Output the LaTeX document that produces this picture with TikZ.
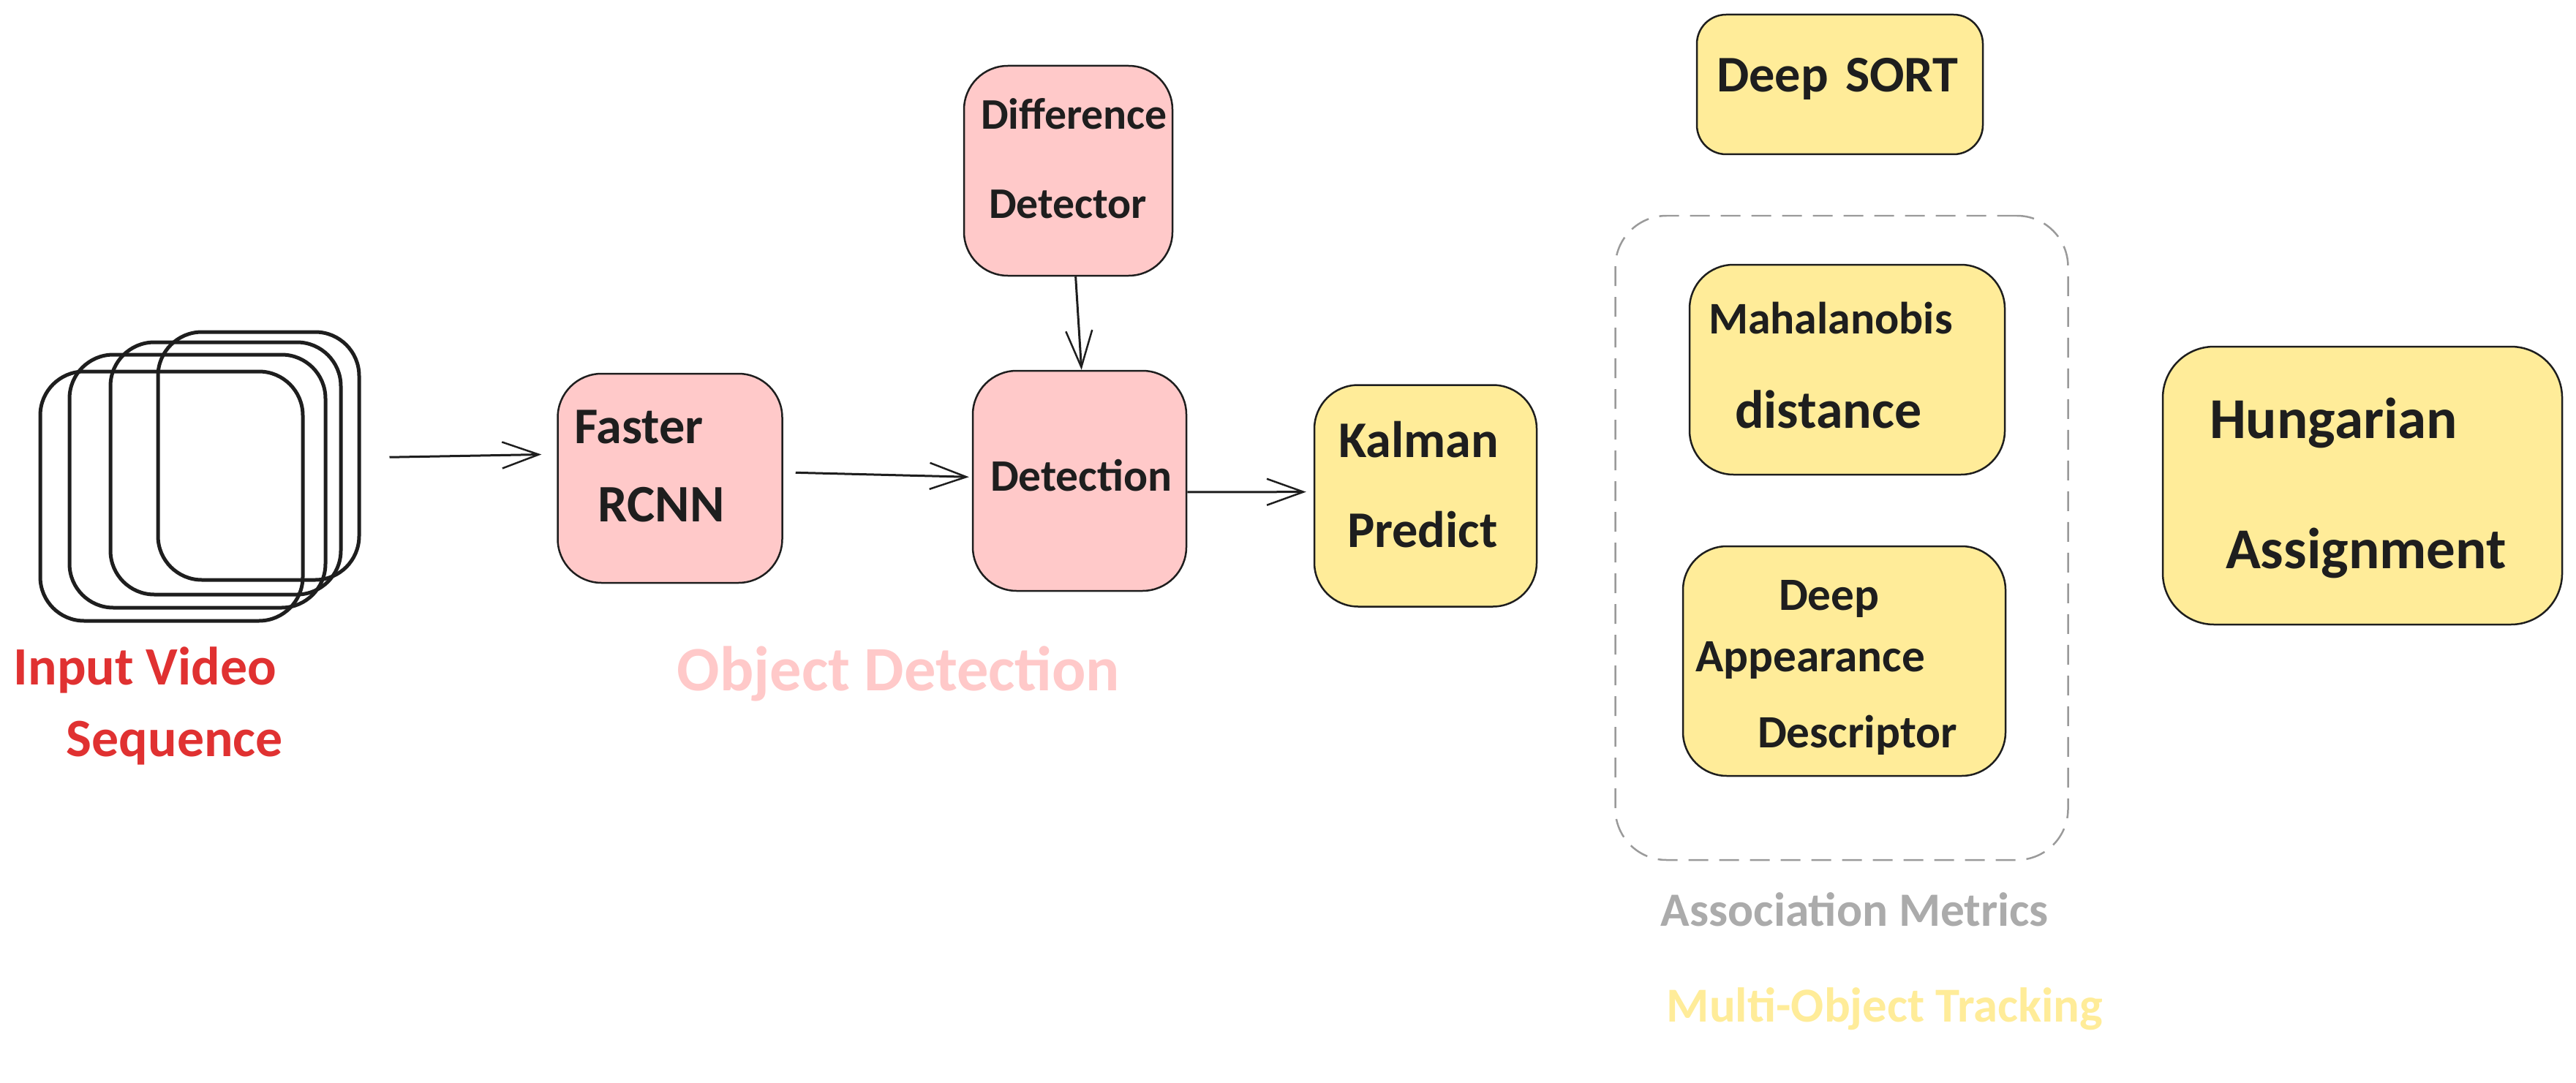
\documentclass[tikz,border=0pt]{standalone}
\usepackage{fontspec}
\setmainfont{Carlito}
\usetikzlibrary{arrows.meta}

\definecolor{ink}{HTML}{1E1E1E}
\definecolor{redfill}{HTML}{FFC9C9}
\definecolor{yellowfill}{HTML}{FFEC99}
\definecolor{redlabel}{HTML}{E03131}
\definecolor{graylabel}{HTML}{ABABAB}

\newcommand{\fsz}[2]{\fontsize{#1}{#2}\selectfont}

\tikzset{
  boxsize/.style 2 args={minimum width=#1cm, minimum height=#2cm, text width=#1cm},
  textup/.style={text height=0pt, text depth=#1cm},
  textdown/.style={text height=#1cm, text depth=0pt},
  sketchbox/.style={draw=ink, line width=0.025cm, rounded corners=0.6cm, inner sep=0pt, align=left, text=ink},
  redbox/.style={sketchbox, fill=redfill},
  yellowbox/.style={sketchbox, fill=yellowfill},
  framebox/.style={draw=ink, line width=0.05cm, rounded corners=0.6cm, inner sep=0pt},
  dashbox/.style={draw=graylabel!90!black, line width=0.025cm, rounded corners=0.7cm, inner sep=0pt,
    dash pattern=on 0.27cm off 0.15cm},
  sketcharrow/.style={draw=ink, line width=0.03cm,
    -{Straight Barb[length=0.5cm, width=0.36cm, line width=0.025cm]}},
  caption/.style={inner sep=0pt, align=left, anchor=north west},
}

\begin{document}
\begin{tikzpicture}
  \useasboundingbox (0,0) rectangle (35.22,-14.81);

  % input frames
  \node[framebox, boxsize={3.59}{3.41}] (frame1) at (2.345,-6.785) {};
  \node[framebox, boxsize={3.50}{3.46}] (frame2) at (2.700,-6.580) {};
  \node[framebox, boxsize={3.15}{3.45}] (frame3) at (3.085,-6.405) {};
  \node[framebox, boxsize={2.75}{3.39}] (frame4) at (3.535,-6.235) {};
  \node[caption, text=redlabel, font=\bfseries\fsz{21}{28}] (inputlabel) at (0.18,-8.84)
    {Input Video\\\hspace*{0.72cm}Sequence};

  % object detection
  \node[redbox, boxsize={3.07}{2.86}, textup=0.96, font=\bfseries\fsz{20}{30.7}] (faster) at (9.16,-6.54)
    {\hspace*{0.23cm}Faster\\\hspace*{0.55cm}{\fsz{20.5}{30.7}RCNN}};
  \node[redbox, boxsize={2.92}{3.01}, textdown=0.27, font=\bfseries\fsz{17.5}{30}] (detection) at (14.76,-6.575)
    {\hspace*{0.24cm}Detection};
  \node[redbox, boxsize={2.85}{2.87}, textup=1.13, font=\bfseries\fsz{17}{34.7}] (difference) at (14.605,-2.335)
    {\hspace*{0.23cm}Difference\\\hspace*{0.34cm}Detector};
  \node[caption, text=redfill, font=\bfseries\fsz{24.6}{30}] (detectlabel) at (9.25,-8.83) {Object Detection};

  % tracking
  \node[yellowbox, boxsize={3.04}{3.03}, textup=1.06, font=\bfseries\fsz{20}{35}] (kalman) at (19.49,-6.78)
    {\hspace*{0.33cm}Kalman\\\hspace*{0.45cm}Predict};
  \node[yellowbox, boxsize={3.91}{1.91}, rounded corners=0.4cm, textdown=0.21, font=\bfseries\fsz{20}{30}] (deepsort) at (25.155,-1.155)
    {\hspace*{0.27cm}Deep SORT};

  \node[dashbox, minimum width=6.19cm, minimum height=8.81cm] (metrics) at (25.18,-7.355) {};
  \node[yellowbox, boxsize={4.31}{2.87}, textup=0.99, font=\bfseries\fsz{17.6}{36.9}] (mahalanobis) at (25.255,-5.055)
    {\hspace*{0.26cm}Mahalanobis\\\hspace*{0.62cm}{\fsz{21}{36.9}distance}};
  \node[yellowbox, boxsize={4.41}{3.14}, textup=1.40, font=\bfseries\fsz{18}{24.1}] (appearance) at (25.215,-9.04)
    {\hspace*{1.31cm}Deep\\\hspace*{0.17cm}Appearance\\[0.19cm]\hspace*{1.02cm}Descriptor};
  \node[caption, text=graylabel, font=\bfseries\fsz{18.6}{24}] (metricslabel) at (22.7,-12.2) {Association Metrics};
  \node[caption, text=yellowfill, font=\bfseries\fsz{19}{24}] (trackinglabel) at (22.78,-13.5) {Multi-Object Tracking};

  \node[yellowbox, boxsize={5.46}{3.80}, rounded corners=0.7cm, textup=1.29, font=\bfseries\fsz{22.5}{50.7}] (hungarian) at (32.30,-6.64)
    {\hspace*{0.64cm}Hungarian\\\hspace*{0.86cm}Assignment};

  % connectors
  \draw[sketcharrow, shorten <=0.39cm, shorten >=0.21cm] (frame4.-1) -- (faster.168);
  \draw[sketcharrow, shorten <=0.17cm, shorten >=0.04cm] (faster.3) -- (detection.178);
  \draw[sketcharrow] (difference.-86) -- (detection.89);
  \draw[sketcharrow, shorten >=0.10cm] (detection.-6) -- (kalman.178);
\end{tikzpicture}
\end{document}
